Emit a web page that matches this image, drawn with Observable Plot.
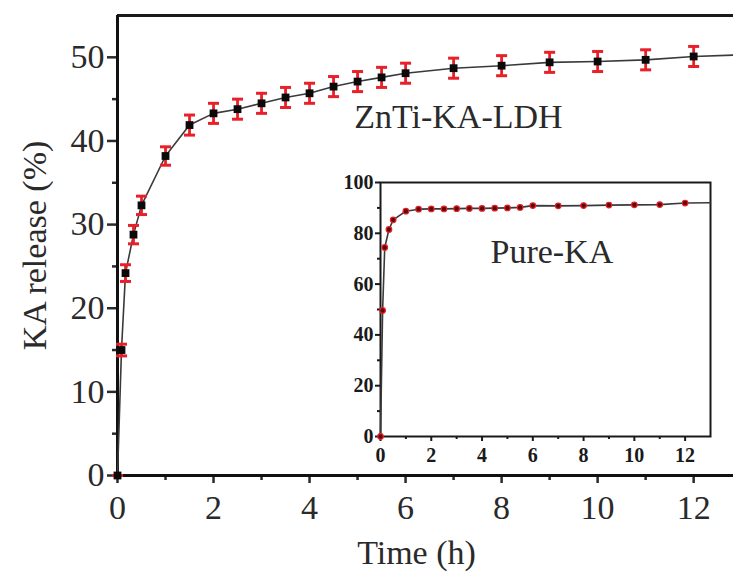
<!DOCTYPE html>
<html>
<head>
<meta charset="utf-8">
<script src="https://cdn.jsdelivr.net/npm/d3@7"></script>
<script src="https://cdn.jsdelivr.net/npm/@observablehq/plot@0.6"></script>
<style>
  html, body { margin: 0; padding: 0; background: white; }
  #wrap { position: relative; width: 733px; height: 572px; overflow: hidden; }
  #inset { position: absolute; left: 334px; top: 166px; }
  svg { display: block; }
</style>
</head>
<body>
<div id="wrap"><div id="main"></div><div id="inset"></div></div>
<script>
// ZnTi-KA-LDH release (main chart)
const timeLDH    = [0, 0.083, 0.167, 0.333, 0.5, 1, 1.5, 2, 2.5, 3, 3.5, 4, 4.5, 5, 5.5, 6, 7, 8, 9, 10, 11, 12, 13];
const releaseLDH = [0, 15.0, 24.2, 28.8, 32.3, 38.2, 41.9, 43.3, 43.8, 44.5, 45.2, 45.7, 46.5, 47.1, 47.6, 48.1, 48.7, 49.0, 49.4, 49.5, 49.7, 50.1, 50.3];
const errorLDH   = [0, 0.7, 1.0, 1.1, 1.1, 1.1, 1.2, 1.2, 1.2, 1.2, 1.2, 1.2, 1.2, 1.2, 1.2, 1.2, 1.2, 1.2, 1.2, 1.2, 1.2, 1.2, 1.2];

// Pure-KA release (inset)
const timePure    = [0, 0.083, 0.167, 0.333, 0.5, 1, 1.5, 2, 2.5, 3, 3.5, 4, 4.5, 5, 5.5, 6, 7, 8, 9, 10, 11, 12, 13];
const releasePure = [0, 49.6, 74.4, 81.5, 85.3, 88.7, 89.5, 89.6, 89.6, 89.7, 89.8, 89.8, 89.9, 90.0, 90.2, 90.9, 90.8, 90.9, 91.1, 91.2, 91.3, 91.9, 92.0];

// tick labels
const xTicksMain = [0, 2, 4, 6, 8, 10, 12];
const xMinorMain = [1, 3, 5, 7, 9, 11];
const yTicksMain = [0, 10, 20, 30, 40, 50];
const yMinorMain = [5, 15, 25, 35, 45];
const xTicksInset = [0, 2, 4, 6, 8, 10, 12];
const xMinorInset = [1, 3, 5, 7, 9, 11];
const yTicksInset = [0, 20, 40, 60, 80, 100];
const yMinorInset = [10, 30, 50, 70, 90];

const ldh = timeLDH.map((t, i) => ({t, v: releaseLDH[i], e: errorLDH[i]}));
const pure = timePure.map((t, i) => ({t, v: releasePure[i]}));
const ldhMarked = ldh.filter(d => d.t <= 12);
const pureMarked = pure.filter(d => d.t <= 12);

const RED = "#e8202a";
const INK = "#2a2a2a";
const capSymbol = {
  draw(ctx, size) {
    const w = Math.sqrt(size / Math.PI);
    ctx.moveTo(-w, 0);
    ctx.lineTo(w, 0);
  }
};

const serif = "'Liberation Serif', 'Times New Roman', serif";
const BIG = 34;

const main = Plot.plot({
  width: 733, height: 572,
  marginLeft: 117, marginRight: 0, marginTop: 15, marginBottom: 97,
  style: {fontFamily: serif, fontSize: BIG + "px", color: INK, background: "white", overflow: "hidden"},
  x: {domain: [0, 12.83]},
  y: {domain: [0, 55]},
  marks: [
    Plot.ruleY([55], {stroke: "#1a1a1a", strokeWidth: 3}),
    Plot.axisX({ticks: xMinorMain, tickSize: 5, text: null, strokeWidth: 2.5, label: null}),
    Plot.axisX({ticks: xTicksMain, tickSize: 8, tickPadding: 11, tickFormat: d => String(d), strokeWidth: 2.5, label: null, fontSize: BIG}),
    Plot.axisY({ticks: yMinorMain, tickSize: 5, text: null, strokeWidth: 2.5, label: null}),
    Plot.axisY({ticks: yTicksMain, tickSize: 10, tickPadding: 3, tickFormat: d => String(d), strokeWidth: 2.5, label: null, fontSize: BIG}),
    Plot.ruleX([0], {stroke: "#111", strokeWidth: 3}),
    Plot.ruleY([0], {stroke: "#111", strokeWidth: 3}),
    Plot.line(ldh, {x: "t", y: "v", stroke: "#3a3a3a", strokeWidth: 1.6, clip: true}),
    Plot.ruleX(ldhMarked, {x: "t", y1: d => d.v - d.e, y2: d => d.v + d.e, stroke: RED, strokeWidth: 2.8}),
    Plot.dot(ldhMarked, {x: "t", y: d => d.v + d.e, symbol: capSymbol, r: 5.5, stroke: RED, strokeWidth: 3}),
    Plot.dot(ldhMarked, {x: "t", y: d => d.v - d.e, symbol: capSymbol, r: 5.5, stroke: RED, strokeWidth: 3}),
    Plot.dot(ldhMarked, {x: "t", y: "v", symbol: "square", r: 4.4, fill: "#0a0a0a"}),
    Plot.text(["ZnTi-KA-LDH"], {x: 7.1, y: 41.5, text: d => d, fontSize: BIG, lineAnchor: "bottom", textAnchor: "middle", fill: INK}),
    Plot.text(["Time (h)"], {frameAnchor: "bottom", dx: -9, dy: 88, text: d => d, fontSize: BIG, fill: INK}),
    Plot.text(["KA release (%)"], {frameAnchor: "left", dx: -82, dy: 0, rotate: -90, textAnchor: "middle", text: d => d, fontSize: BIG, fill: INK})
  ]
});
document.getElementById("main").append(main);

const SMALL = 20;
const inset = Plot.plot({
  width: 381, height: 302,
  marginLeft: 46, marginRight: 5, marginTop: 16, marginBottom: 32,
  style: {fontFamily: serif, fontSize: SMALL + "px", fontWeight: "bold", color: "#1a1a1a", background: "transparent"},
  x: {domain: [0, 13]},
  y: {domain: [0, 100]},
  marks: [
    Plot.frame({fill: "white", stroke: "#1a1a1a", strokeWidth: 2}),
    Plot.axisX({ticks: xMinorInset, tickSize: 3, text: null, strokeWidth: 2, label: null}),
    Plot.axisX({ticks: xTicksInset, tickSize: 5, tickPadding: 6, tickFormat: d => String(d), strokeWidth: 2, label: null, fontSize: SMALL, fontWeight: "bold"}),
    Plot.axisY({ticks: yMinorInset, tickSize: 3, text: null, strokeWidth: 2, label: null}),
    Plot.axisY({ticks: yTicksInset, tickSize: 5, tickPadding: 2, tickFormat: d => String(d), strokeWidth: 2, label: null, fontSize: SMALL, fontWeight: "bold"}),
    Plot.line(pure, {x: "t", y: "v", stroke: "#3a3a3a", strokeWidth: 1.6}),
    Plot.dot(pureMarked, {x: "t", y: "v", r: 2.8, fill: "#5a0a0a", stroke: RED, strokeWidth: 1.2}),
    Plot.text(["Pure-KA"], {x: 6.75, y: 68.5, text: d => d, fontSize: BIG, fontWeight: "normal", lineAnchor: "bottom", textAnchor: "middle", fill: INK})
  ]
});
document.getElementById("inset").append(inset);
</script>
</body>
</html>
